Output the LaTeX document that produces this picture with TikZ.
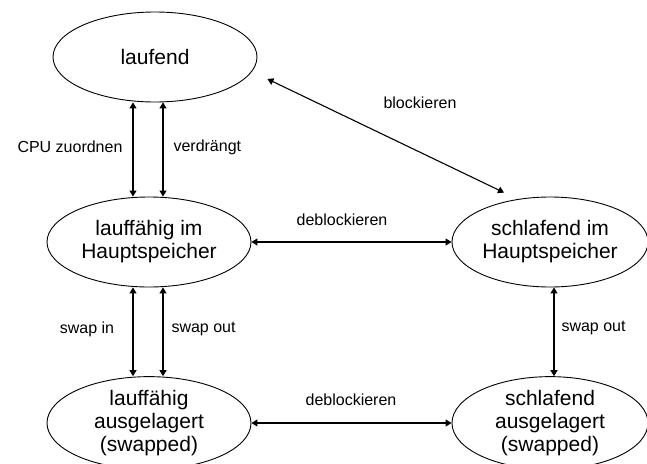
\documentclass[tikz,border=0pt]{standalone}
\usepackage{fontspec}
\setmainfont{Liberation Sans}
\usetikzlibrary{arrows.meta, positioning, shapes.geometric}

\begin{document}
\begin{tikzpicture}[
    x=1pt, y=-1pt,
    state/.style={ellipse, draw, line width=0.9pt, inner sep=0pt, minimum width=204pt, minimum height=90pt, align=center, font=\fontsize{21}{23}\selectfont},
    arrow/.style={{Triangle[length=6pt,width=7pt]}-{Triangle[length=6pt,width=7pt]}, line width=1.1pt},
    edgelabel/.style={font=\fontsize{16}{18}\selectfont}
]

% ============ FRAME ============
\fill[white] (0,0) rectangle (647,463);
\useasboundingbox (0,0) rectangle (647,463);

% ============ STATES ============
\node[state] (run) at (155,57) {laufend};
\node[state] (ready) at (149,242) {lauffähig im\\Hauptspeicher};
\node[state, minimum width=196pt] (sleep) at (550,242) {schlafend im\\Hauptspeicher};
\node[state] (readyout) at (149,423) {lauffähig\\ausgelagert\\(swapped)};
\node[state, minimum width=196pt] (sleepout) at (550,423) {schlafend\\ausgelagert\\(swapped)};

% columns of the vertical arrows
\coordinate (colA) at (133,0);
\coordinate (colB) at (163,0);
\coordinate (colC) at (554,0);

% ============ TRANSITIONS ============
\draw[arrow] (run.south -| colA) -- (ready.north -| colA);
\draw[arrow] (run.south -| colB) -- (ready.north -| colB);
\draw[arrow] (ready.south -| colA) -- (readyout.north -| colA);
\draw[arrow] (ready.south -| colB) -- (readyout.north -| colB);
\draw[arrow] (sleep.south -| colC) -- (sleepout.north -| colC);
\draw[arrow] (ready.east) -- (sleep.west);
\draw[arrow] (readyout.east) -- (sleepout.west);
\draw[arrow] ([shift={(10,22)}]run.east) -- ([shift={(-46,-4)}]sleep.north);

% ============ LABELS ============
\node[edgelabel, anchor=east] (cpu) at (126,147) {CPU zuordnen};
\node[edgelabel, anchor=west] (preempt) at (170,147) {verdrängt};
\node[edgelabel] (block) at (420,103) {blockieren};
\node[edgelabel] (unblock) at (342,220) {deblockieren};
\node[edgelabel] (unblockout) at (351,400) {deblockieren};
\node[edgelabel] (swapin) at (87,329) {swap in};
\node[edgelabel, anchor=west] (swapout) at (168,329) {swap out};
\node[edgelabel, anchor=west] (swapoutr) at (558,328) {swap out};

\end{tikzpicture}
\end{document}
